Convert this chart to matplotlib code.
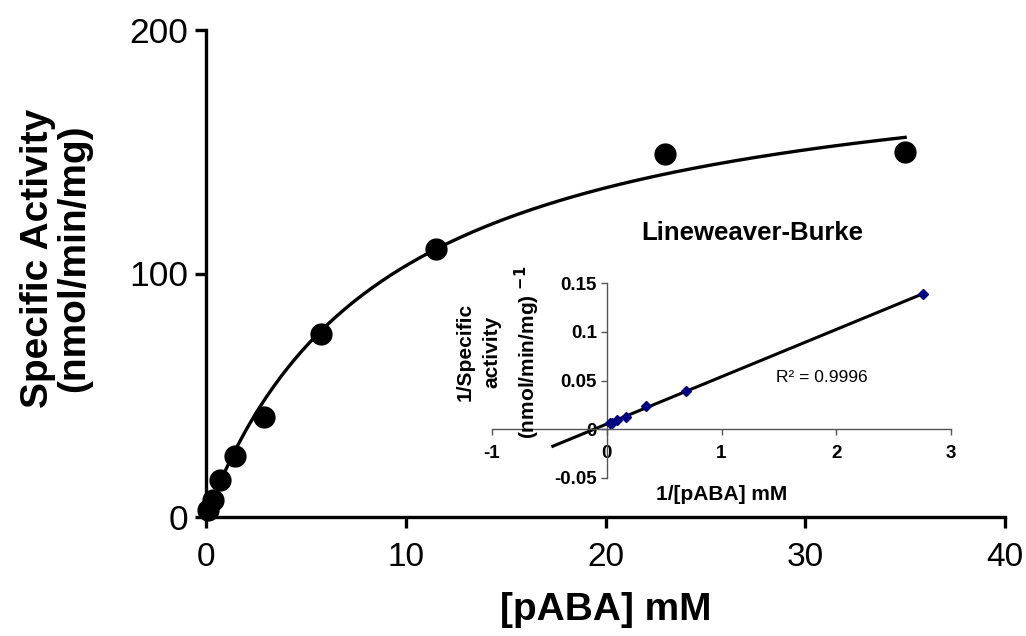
import numpy as np
import matplotlib
matplotlib.use('Agg')
import matplotlib.pyplot as plt

plt.rcParams['font.family'] = ['Liberation Sans', 'DejaVu Sans']

# Michaelis-Menten data: [pABA] mM vs specific activity (nmol/min/mg)
conc = [0.1, 0.36, 0.72, 1.44, 2.88, 5.75, 11.5, 23.0, 35.0]
activity = [3, 7, 15, 25, 41, 75, 110, 149, 150]

# fitted curve parameters
vmax = 196.0
km = 9.0

# Lineweaver-Burke data (1/[S] vs 1/v)
inv_conc = [2.76, 0.69, 0.345, 0.172, 0.087, 0.043, 0.029]
inv_act = [0.139, 0.039, 0.024, 0.013, 0.0092, 0.0068, 0.0067]

fig = plt.figure(figsize=(10.26, 6.36), dpi=100)
ax = fig.add_axes([206/1026, 1 - 517/636, (1005 - 206)/1026, (517 - 30)/636])

xs = np.linspace(0, 35, 300)
ax.plot(xs, vmax * xs / (km + xs), color='black', lw=2.4, zorder=2)
ax.plot(conc, activity, 'o', color='black', ms=15, zorder=3, clip_on=False)

ax.set_xlim(0, 40)
ax.set_ylim(0, 200)
ax.set_xticks([0, 10, 20, 30, 40])
ax.set_yticks([0, 100, 200])
for s in ['top', 'right']:
    ax.spines[s].set_visible(False)
for s in ['left', 'bottom']:
    ax.spines[s].set_linewidth(2.4)
ax.tick_params(width=2.4, length=8)
ax.tick_params(axis='x', labelsize=24, pad=10)
ax.tick_params(axis='y', labelsize=25.5, pad=5)
ax.set_xlabel('[pABA] mM', fontsize=28, fontweight='bold', labelpad=14)
ax.set_ylabel('Specific Activity\n(nmol/min/mg)', fontsize=28, fontweight='bold',
              linespacing=1.0)
ax.yaxis.set_label_coords(-0.143, 0.532)

# inset: Lineweaver-Burke plot
ins = fig.add_axes([492/1026, 1 - 478/636, (951 - 492)/1026, (478 - 283)/636])
ins.patch.set_alpha(0)
slope, icpt = np.polyfit(inv_conc, inv_act, 1)
lx = np.array([-0.47, 2.76])
ins.plot(lx, slope * lx + icpt, color='black', lw=2.2, zorder=2)
ins.plot(inv_conc, inv_act, 'D', color='#000080', ms=5, zorder=3)
ins.set_xlim(-1, 3)
ins.set_ylim(-0.05, 0.15)
ins.set_xticks([-1, 0, 1, 2, 3])
ins.set_yticks([-0.05, 0, 0.05, 0.1, 0.15])
ins.set_xticklabels(['-1', '0', '1', '2', '3'])
ins.set_yticklabels(['-0.05', '0', '0.05', '0.1', '0.15'])
ins.spines['left'].set_position(('data', 0))
ins.spines['bottom'].set_position(('data', 0))
for s in ['top', 'right']:
    ins.spines[s].set_visible(False)
for s in ['left', 'bottom']:
    ins.spines[s].set_color('#555555')
    ins.spines[s].set_linewidth(1.0)
ins.tick_params(color='#555555', width=1.0, length=4, labelsize=13.5)
ins.tick_params(axis='x', pad=7)
ins.tick_params(axis='y', pad=3)
for lab in ins.get_xticklabels() + ins.get_yticklabels():
    lab.set_fontweight('bold')

ins.text(1.87, 0.053, 'R² = 0.9996', ha='center', va='center', fontsize=12.5)
ins.text(0.566, 1.256, 'Lineweaver-Burke', transform=ins.transAxes, ha='center',
         va='center', fontsize=18.5, fontweight='bold')
fig.text(722/1026, 1 - 495/636, '1/[pABA] mM', ha='center', va='center',
         fontsize=15, fontweight='bold')
fig.text(499/1026, 1 - 352/636,
         '1/Specific\nactivity\n(nmol/min/mg) $^{\\mathbf{-1}}$',
         rotation=90, ha='center', va='center', fontsize=15, fontweight='bold',
         linespacing=1.5)

fig.savefig('out.png', dpi=100)
